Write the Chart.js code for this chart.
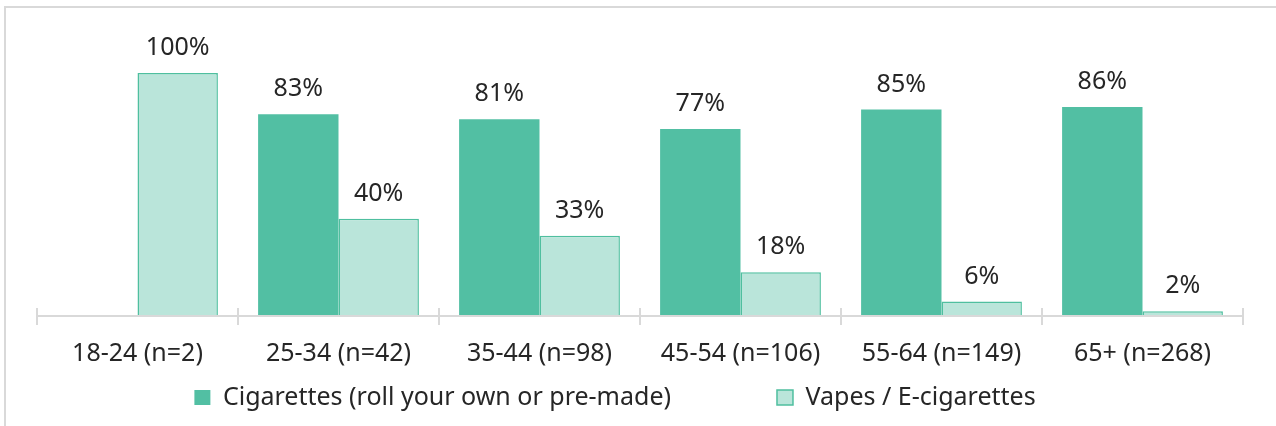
<!DOCTYPE html>
<html>
<head>
<meta charset="utf-8">
<script src="https://cdn.jsdelivr.net/npm/chart.js@4.4.1/dist/chart.umd.min.js"></script>
<style>
  html, body { margin: 0; padding: 0; background: #fff; overflow: hidden; }
  #frame {
    position: absolute; left: 4px; top: 6px; width: 1400px; height: 500px;
    border-left: 2px solid #d9d9d9; border-top: 2px solid #d9d9d9;
  }
  #wrap { position: absolute; left: 0; top: 0; width: 1276px; height: 426px; }
</style>
</head>
<body>
<div id="frame"></div>
<div id="wrap"><canvas id="myChart"></canvas></div>
<script>
const ageGroups = ['18-24 (n=2)', '25-34 (n=42)', '35-44 (n=98)', '45-54 (n=106)', '55-64 (n=149)', '65+ (n=268)'];
const cigarettes = [null, 83, 81, 77, 85, 86];
const vapes = [100, 40, 33, 18, 6, 2];
const seriesNames = ['Cigarettes (roll your own or pre-made)', 'Vapes / E-cigarettes'];

const FONT = '"Noto Sans", "Open Sans", sans-serif';
const FONT_SIZE = 25;
const TEXT = '#262626';
const AXIS = '#d9d9d9';
const legendGap = 16;   // extra spaces between the two legend entries

// percentage above each bar
const barValueLabels = {
  id: 'barValueLabels',
  afterDatasetsDraw(chart) {
    const ctx = chart.ctx;
    ctx.save();
    ctx.font = FONT_SIZE + 'px ' + FONT;
    ctx.fillStyle = TEXT;
    ctx.textAlign = 'center';
    ctx.textBaseline = 'middle';
    chart.data.datasets.forEach((ds, i) => {
      chart.getDatasetMeta(i).data.forEach((bar, j) => {
        const v = ds.data[j];
        if (v == null) return;
        ctx.fillText(v + '%', bar.x, bar.y - 25);
      });
    });
    ctx.restore();
  }
};

// legend sits a bit left of the plot centre
const legendShift = {
  id: 'legendShift',
  afterLayout(chart) {
    chart.legend.left -= 25;
    chart.legend.right -= 25;
  }
};

window.onload = () => {
  const data = {
    labels: ageGroups,
    datasets: [{
      label: seriesNames[0],
      data: cigarettes,
      backgroundColor: '#52bfa3',
      borderColor: '#52bfa3',
      borderWidth: 0,
      clip: false,
      base: 0
    }, {
      label: seriesNames[1],
      data: vapes,
      backgroundColor: '#bae5da',
      borderColor: '#4fbf9f',
      borderWidth: 1.5,
      clip: false,
      base: 0
    }]
  };

  const config = {
    type: 'bar',
    data: data,
    plugins: [barValueLabels, legendShift],
    options: {
      responsive: true,
      maintainAspectRatio: false,
      animation: false,
      categoryPercentage: 0.8,
      barPercentage: 1.0,
      layout: { padding: { top: 73, left: 37, right: 33, bottom: 6 } },
      plugins: {
        tooltip: { enabled: false },
        legend: {
          position: 'bottom',
          labels: {
            font: { family: FONT, size: FONT_SIZE },
            color: TEXT,
            boxWidth: 16,
            boxHeight: 15,
            padding: 2,
            generateLabels(chart) {
              const items = Chart.defaults.plugins.legend.labels.generateLabels(chart);
              items[0].text += ' '.repeat(legendGap);
              return items;
            }
          }
        }
      },
      scales: {
        x: {
          grid: { drawOnChartArea: false, tickLength: 17, color: AXIS, lineWidth: 2 },
          border: { display: false },
          ticks: { font: { family: FONT, size: FONT_SIZE }, color: TEXT, padding: 14 }
        },
        y: {
          min: 3.32,
          max: 100,
          afterBuildTicks(scale) { scale.ticks = [{ value: 0 }]; },
          grid: { drawTicks: false, color: AXIS, lineWidth: 2 },
          border: { display: false },
          ticks: { display: false }
        }
      }
    }
  };

  const myChart = new Chart(document.getElementById('myChart'), config);
};
</script>
</body>
</html>
